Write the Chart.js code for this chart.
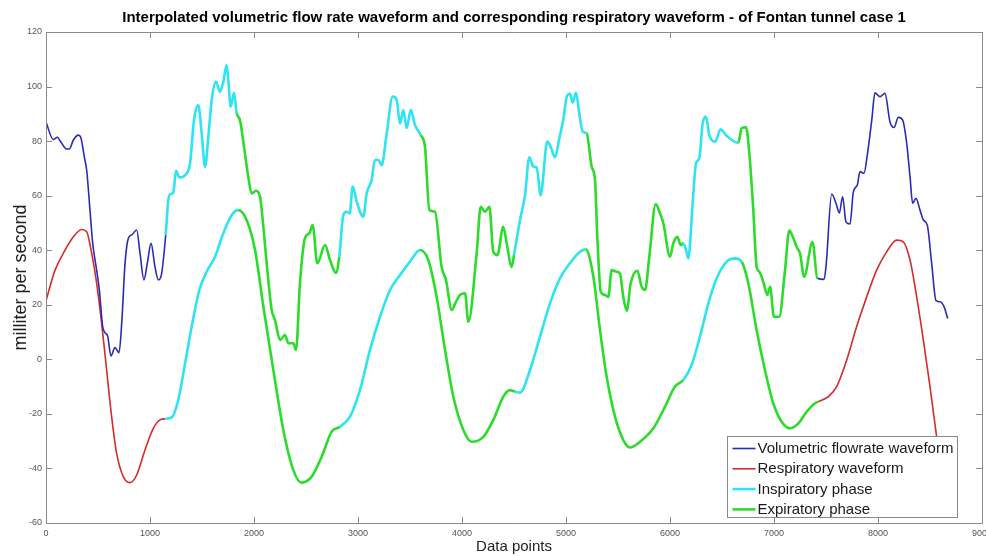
<!DOCTYPE html>
<html>
<head>
<meta charset="utf-8">
<script src="https://cdn.jsdelivr.net/npm/chart.js@4.4.1/dist/chart.umd.min.js"></script>
<style>
  html, body { margin: 0; padding: 0; background: #ffffff; }
  canvas { display: block; }
</style>
</head>
<body>
<canvas id="chart" width="986" height="556"></canvas>
<script>
// Volumetric flow rate (ml/s) sampled at data-point indices
const flowX = [0, 70, 109, 141, 199, 224, 263, 311, 334, 368, 391, 423, 449, 487, 513, 545, 567, 593, 625, 663,
  702, 728, 760, 792, 824, 872, 904, 942, 974, 1010, 1048, 1080, 1112, 1151, 1176, 1199, 1224, 1250, 1282, 1353,
  1385, 1423, 1464, 1497, 1529, 1561, 1593, 1635, 1673, 1705, 1737, 1753, 1776, 1808, 1833, 1865, 1904, 1945, 1978, 2019,
  2058, 2090, 2122, 2170, 2202, 2250, 2298, 2330, 2378, 2404, 2442, 2490, 2532, 2564, 2609, 2683, 2731, 2788, 2820, 2859,
  2891, 2920, 2949, 2987, 3051, 3083, 3131, 3163, 3195, 3228, 3276, 3333, 3372, 3404, 3436, 3468, 3507, 3548, 3603, 3644,
  3686, 3740, 3804, 3846, 3901, 3942, 3981, 4029, 4061, 4141, 4180, 4221, 4263, 4301, 4340, 4397, 4430, 4478, 4500, 4558,
  4606, 4647, 4686, 4718, 4756, 4820, 4853, 4894, 4936, 4974, 5013, 5038, 5064, 5096, 5128, 5160, 5199, 5247, 5279, 5301,
  5334, 5375, 5407, 5439, 5487, 5519, 5551, 5584, 5622, 5686, 5728, 5760, 5801, 5863, 5904, 5936, 6000, 6032, 6070, 6103,
  6128, 6154, 6176, 6218, 6250, 6282, 6314, 6346, 6378, 6433, 6487, 6538, 6593, 6657, 6689, 6731, 6763, 6801, 6833, 6859,
  6897, 6936, 6962, 7000, 7050, 7106, 7147, 7186, 7224, 7250, 7290, 7370, 7417, 7481, 7500, 7555, 7596, 7628, 7660, 7692,
  7731, 7763, 7801, 7827, 7865, 7897, 7940, 7971, 8019, 8067, 8115, 8154, 8195, 8237, 8276, 8308, 8333, 8365, 8404, 8436,
  8474, 8516, 8558, 8596, 8635, 8670];
const flowY = [87, 80.6, 81.4, 79.8, 77.1, 77.1, 80.4, 82.2, 81.4, 74.3, 69.4, 54.7, 42.5, 32.7, 25.4, 12, 9.8, 8.5, 1.2, 4.3,
  2.4, 13.2, 35.2, 44.4, 45.6, 47.4, 38.9, 29.1, 35.2, 42.5, 33.9, 29.1, 31.5, 45.6, 58.4, 60.6, 61.1, 69.1, 66.7, 68.2,
  71.8, 87.7, 93.2, 82.8, 70.6, 81.6, 95, 101.8, 98.1, 101.8, 107.9, 102.4, 92.6, 97.7, 90.2, 87.7, 77.9, 66.9, 60.8, 61.8,
  59.6, 48.6, 35.2, 18.1, 14.4, 7.1, 8.9, 5.9, 5.9, 3.4, 27.9, 44.4, 46.2, 49.2, 35.2, 41.9, 36.4, 31.7, 37.6, 52.9,
  54.1, 53.5, 63.3, 57.8, 52.3, 60.8, 65.7, 73.1, 73.1, 71.2, 82.8, 96.3, 95.1, 86.5, 91.4, 84.7, 91.4, 85.9, 82.2, 77.9,
  54.7, 54.1, 33.9, 29.1, 18.1, 21.1, 23.6, 24.2, 13.8, 38.9, 55.9, 54.1, 55.9, 39.4, 38.2, 48.6, 42.5, 33.9, 38.2, 51.1,
  60.2, 74.1, 70.6, 70.4, 60.2, 79.8, 77.9, 74.1, 81, 88, 96.9, 97.3, 94.1, 97.7, 90.2, 83.5, 82.8, 70.6, 65.7, 44.9,
  24.8, 23.6, 22.9, 32.7, 32.1, 31.5, 22.9, 17.8, 27.9, 32.5, 26.6, 25.4, 37.6, 56.9, 53.5, 49.9, 37.6, 42.5, 44.9, 41.9,
  42.5, 40.1, 37, 57.2, 71.8, 73.7, 86.5, 88.9, 82.2, 79.8, 84.3, 82.2, 80.4, 79.4, 84.7, 85.1, 75.5, 54.7, 33.9, 32.1,
  28.4, 23.6, 26.6, 15.6, 15.6, 32.7, 47.2, 44.4, 40.7, 38.9, 30.3, 43, 29.7, 29.3, 34, 60.6, 57.2, 53.7, 59.6, 50.4,
  49.6, 61.4, 63.9, 68.8, 68.2, 74.9, 87.7, 97.7, 96.3, 97.5, 87.1, 85, 88.7, 87.7, 79.2, 66.9, 57.2, 59, 54.7, 51.1,
  49.2, 35.2, 21.5, 21.1, 19.3, 15];

// Respiratory waveform sampled at data-point indices
const respX = [0, 87, 183, 263, 343, 391, 439, 487, 535, 583, 631, 679, 743, 808, 872, 952, 1032, 1096, 1148, 1208,
  1272, 1337, 1401, 1474, 1545, 1625, 1705, 1786, 1849, 1929, 2010, 2090, 2186, 2282, 2378, 2458, 2555, 2651, 2747, 2827,
  2923, 3019, 3115, 3212, 3308, 3404, 3500, 3596, 3676, 3756, 3837, 3917, 4013, 4093, 4205, 4301, 4397, 4462, 4510, 4558,
  4654, 4750, 4846, 4942, 5038, 5119, 5190, 5263, 5327, 5391, 5471, 5551, 5615, 5712, 5840, 5952, 6048, 6128, 6208, 6288,
  6369, 6449, 6545, 6625, 6689, 6753, 6833, 6913, 6993, 7074, 7154, 7234, 7314, 7394, 7426, 7522, 7603, 7699, 7795, 7891,
  7987, 8083, 8180, 8243, 8308, 8372, 8436, 8500, 8564, 8670];
const respY = [21.5, 32.7, 40, 44.9, 47.6, 46.8, 38.9, 27.9, 13.2, -3.9, -21, -34.5, -43, -45.2, -42.4, -33.2, -25.3, -22.2, -21.8, -21.3,
  -14.9, -1.5, 12, 25.4, 32.1, 37.6, 46.2, 52.9, 54.7, 51.1, 40.1, 19.3, -3.9, -25.9, -40.6, -45.2, -43, -35.7, -26.5, -24.7,
  -21, -11.3, 3.4, 15.6, 25.4, 30.9, 35.8, 40.1, 36.4, 22.9, 3.4, -13.7, -25.9, -30.2, -28.4, -22.2, -13.7, -11.3, -11.8, -12.2,
  -3.9, 8.3, 20.5, 29.7, 35.2, 38.9, 40.3, 30.3, 10.7, -6.4, -21, -29.6, -32.3, -30.2, -25.3, -17.4, -10, -7.6, -2.1, 8.3,
  20.5, 29.7, 35.8, 37, 35.8, 27.9, 10.7, -3.9, -16.1, -22.9, -25.3, -23.5, -19.2, -16.1, -15.5, -13.7, -10, -0.3, 12, 22.9,
  32.7, 39.4, 43.7, 43.1, 36.4, 22.9, 7.1, -10, -28.4, -55];

// Breathing phases as [start, end] data-point ranges
const inspiratoryPhases = [[1150, 1840], [2823, 3600], [4510, 5195], [6128, 6670]];
const expiratoryPhases = [[1840, 2823], [3600, 4510], [5195, 6128], [6670, 7420]];

const seriesNames = ['Volumetric flowrate waveform', 'Respiratory waveform'];
const phaseNames = ['Inspiratory phase', 'Expiratory phase'];

const xTickStep = 1000;
const yTickStep = 20;

const COLORS = {
  flow: '#2b2bb8',
  resp: '#d42b2b',
  insp: '#2de4f0',
  exp: '#2bdc2b'
};
const THIN = 1.6;
const THICK = 2.6;
const FONT = "'Liberation Sans', Arial, Helvetica, sans-serif";

function phaseOf(x) {
  for (const [a, b] of inspiratoryPhases) if (x >= a && x < b) return 'insp';
  for (const [a, b] of expiratoryPhases) if (x >= a && x < b) return 'exp';
  return null;
}
function segMid(ctx) {
  return (ctx.p0.parsed.x + ctx.p1.parsed.x) / 2;
}
function segmentStyle(base) {
  return {
    borderColor: ctx => {
      const p = phaseOf(segMid(ctx));
      return p ? COLORS[p] : base;
    },
    borderWidth: ctx => (phaseOf(segMid(ctx)) ? THICK : THIN)
  };
}

function toPoints(xs, ys) {
  return xs.map((x, i) => ({ x, y: ys[i] }));
}

// Box around the plot area with inward tick marks on every side
const axesFrame = {
  id: 'axesFrame',
  afterDatasetsDraw(chart) {
    const { ctx, chartArea: a, scales } = chart;
    ctx.save();
    ctx.strokeStyle = '#8a8a8a';
    ctx.lineWidth = 1;
    ctx.beginPath();
    ctx.rect(Math.round(a.left) + 0.5, Math.round(a.top) + 0.5,
      Math.round(a.right - a.left), Math.round(a.bottom - a.top));
    const tl = 6;
    scales.x.ticks.forEach(t => {
      const px = Math.round(scales.x.getPixelForValue(t.value)) + 0.5;
      ctx.moveTo(px, a.bottom); ctx.lineTo(px, a.bottom - tl);
      ctx.moveTo(px, a.top); ctx.lineTo(px, a.top + tl);
    });
    scales.y.ticks.forEach(t => {
      const py = Math.round(scales.y.getPixelForValue(t.value)) + 0.5;
      ctx.moveTo(a.left, py); ctx.lineTo(a.left + tl, py);
      ctx.moveTo(a.right, py); ctx.lineTo(a.right - tl, py);
    });
    ctx.stroke();
    ctx.restore();
  }
};

// Legend box drawn inside the lower right of the plot
const insetLegend = {
  id: 'insetLegend',
  afterDraw(chart) {
    const { ctx } = chart;
    const items = [
      { text: seriesNames[0], color: COLORS.flow, width: THIN },
      { text: seriesNames[1], color: COLORS.resp, width: THIN },
      { text: phaseNames[0], color: COLORS.insp, width: THICK },
      { text: phaseNames[1], color: COLORS.exp, width: THICK }
    ];
    const box = { x: 727.5, y: 436.5, w: 230, h: 81 };
    ctx.save();
    ctx.fillStyle = '#ffffff';
    ctx.fillRect(box.x, box.y, box.w, box.h);
    ctx.strokeStyle = '#8a8a8a';
    ctx.lineWidth = 1;
    ctx.strokeRect(box.x, box.y, box.w, box.h);
    ctx.font = '15px ' + FONT;
    ctx.textBaseline = 'middle';
    ctx.textAlign = 'left';
    items.forEach((it, i) => {
      const cy = box.y + 12 + i * 20.3;
      ctx.strokeStyle = it.color;
      ctx.lineWidth = it.width;
      ctx.beginPath();
      ctx.moveTo(box.x + 5, cy);
      ctx.lineTo(box.x + 28, cy);
      ctx.stroke();
      ctx.fillStyle = '#1a1a1a';
      ctx.fillText(it.text, box.x + 30, cy + 0.5);
    });
    ctx.restore();
  }
};

new Chart(document.getElementById('chart'), {
  type: 'line',
  data: {
    datasets: [
      {
        label: seriesNames[0],
        data: toPoints(flowX, flowY),
        borderColor: COLORS.flow,
        borderWidth: THIN,
        pointRadius: 0,
        fill: false,
        cubicInterpolationMode: 'monotone',
        segment: segmentStyle(COLORS.flow)
      },
      {
        label: seriesNames[1],
        data: toPoints(respX, respY),
        borderColor: COLORS.resp,
        borderWidth: THIN,
        pointRadius: 0,
        fill: false,
        cubicInterpolationMode: 'monotone',
        segment: segmentStyle(COLORS.resp)
      }
    ]
  },
  options: {
    responsive: false,
    animation: false,
    events: [],
    layout: { padding: { left: 0, right: 4, top: 0, bottom: 0 } },
    plugins: {
      legend: { display: false },
      tooltip: { enabled: false },
      title: {
        display: true,
        fullSize: false,
        text: 'Interpolated volumetric flow rate waveform and corresponding respiratory waveform - of Fontan tunnel case 1',
        color: '#000000',
        font: { family: FONT, size: 15, weight: 'bold', lineHeight: 1.2 },
        padding: { top: 9, bottom: 5 }
      }
    },
    scales: {
      x: {
        type: 'linear',
        min: 0,
        max: 9000,
        ticks: {
          stepSize: xTickStep,
          autoSkip: false,
          maxRotation: 0,
          padding: 5,
          color: '#555555',
          font: { family: FONT, size: 9 },
          callback: v => String(v)
        },
        grid: { display: false, drawTicks: false },
        border: { display: false },
        title: {
          display: true,
          text: 'Data points',
          color: '#222222',
          font: { family: FONT, size: 15 },
          padding: { top: 0, bottom: 0 }
        },
        afterFit(s) { s.height = 33; s.paddingLeft = 0; s.paddingRight = 0; }
      },
      y: {
        type: 'linear',
        min: -60,
        max: 120,
        ticks: {
          stepSize: yTickStep,
          autoSkip: false,
          padding: 4,
          color: '#555555',
          font: { family: FONT, size: 9 },
          callback: v => String(v)
        },
        grid: { display: false, drawTicks: false },
        border: { display: false },
        title: {
          display: true,
          text: 'milliter per second',
          color: '#222222',
          font: { family: FONT, size: 18 },
          padding: { top: 10, bottom: 0 }
        },
        afterFit(s) { s.width = 46; s.paddingTop = 0; s.paddingBottom = 0; }
      }
    }
  },
  plugins: [axesFrame, insetLegend]
});
</script>
</body>
</html>
